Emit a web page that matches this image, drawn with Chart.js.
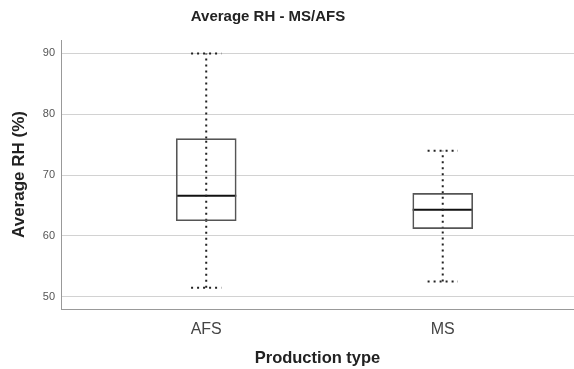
<!DOCTYPE html>
<html>
<head>
<meta charset="utf-8">
<script src="https://cdn.jsdelivr.net/npm/chart.js@4/dist/chart.umd.min.js"></script>
<style>
  html, body { margin: 0; padding: 0; background: #fff; }
  canvas { display: block; }
</style>
</head>
<body>
<canvas id="chart" width="574" height="369"></canvas>
<script>
// Box plot summary of average relative humidity per production type
const categories = ['AFS', 'MS'];
const positions = [1, 2];
const whiskerLow = [51.5, 52.5];
const q1 = [62.5, 61.2];
const median = [66.6, 64.3];
const q3 = [76, 67];
const whiskerHigh = [90, 74];
const yTicks = [50, 60, 70, 80, 90];

const chartTitle = 'Average RH - MS/AFS';
const xTitle = 'Production type';
const yTitle = 'Average RH (%)';

const BOX_HALF = 0.127;
const CAP_HALF = 0.064;
const FONT = '"Liberation Sans", Arial, sans-serif';

function segment(x0, y0, x1, y1, dashed, width, color) {
  return {
    type: 'line',
    data: [{ x: x0, y: y0 }, { x: x1, y: y1 }],
    borderColor: color,
    borderWidth: width,
    borderDash: dashed ? [2, 4] : [],
    borderCapStyle: 'butt',
    pointRadius: 0,
    fill: false,
    tension: 0
  };
}

const datasets = [];
// boxes (interquartile range)
datasets.push({
  type: 'bar',
  data: categories.map((c, i) => ({ x: positions[i], y: [q1[i], q3[i]] })),
  backgroundColor: 'rgba(255,255,255,0)',
  borderColor: '#555',
  borderWidth: 1,
  borderSkipped: false,
  barThickness: 60
});
categories.forEach((c, i) => {
  const x = positions[i];
  // whiskers
  datasets.push(segment(x, whiskerLow[i], x, q1[i], true, 2, '#222'));
  datasets.push(segment(x, q3[i], x, whiskerHigh[i], true, 2, '#222'));
  datasets.push(segment(x, q1[i], x, q3[i], true, 2, '#222'));
  // caps
  datasets.push(segment(x - CAP_HALF, whiskerLow[i], x + CAP_HALF, whiskerLow[i], true, 2, '#222'));
  datasets.push(segment(x - CAP_HALF, whiskerHigh[i], x + CAP_HALF, whiskerHigh[i], true, 2, '#222'));
  // median
  datasets.push(segment(x - BOX_HALF, median[i], x + BOX_HALF, median[i], false, 2, '#111'));
});

const titlePlugin = {
  id: 'plotTitle',
  afterDraw(chart) {
    const ctx = chart.ctx;
    ctx.save();
    ctx.font = 'bold 15px ' + FONT;
    ctx.fillStyle = '#222';
    ctx.textAlign = 'center';
    ctx.textBaseline = 'middle';
    ctx.fillText(chartTitle, 268, 17);
    ctx.restore();
  }
};

new Chart(document.getElementById('chart'), {
  type: 'bar',
  data: { datasets },
  plugins: [titlePlugin],
  options: {
    responsive: false,
    animation: false,
    layout: { padding: { top: 40, right: 0, bottom: 0, left: 0 } },
    plugins: {
      legend: { display: false },
      tooltip: { enabled: false },
      title: { display: false }
    },
    scales: {
      x: {
        type: 'linear',
        offset: false,
        min: 0.386,
        max: 2.555,
        afterBuildTicks: (scale) => { scale.ticks = positions.map(v => ({ value: v })); },
        afterFit: (scale) => { scale.height = 60; },
        grid: { display: false },
        border: { display: true, color: '#999', width: 1 },
        ticks: {
          callback: (v) => categories[positions.indexOf(v)],
          color: '#444',
          font: { family: FONT, size: 16 },
          padding: 3,
          maxRotation: 0
        },
        title: {
          display: true,
          text: xTitle,
          color: '#222',
          font: { family: FONT, size: 16.5, weight: 'bold' },
          padding: { top: 0, bottom: 1 }
        }
      },
      y: {
        min: 48,
        max: 92.2,
        afterBuildTicks: (scale) => { scale.ticks = yTicks.map(v => ({ value: v })); },
        afterFit: (scale) => { scale.width = 61; },
        grid: { color: '#d2d2d2', lineWidth: 1, drawTicks: false },
        border: { display: true, color: '#999', width: 1 },
        ticks: {
          color: '#555',
          font: { family: FONT, size: 11 },
          padding: 6
        },
        title: {
          display: true,
          text: yTitle,
          color: '#222',
          font: { family: FONT, size: 17, weight: 'bold' },
          padding: { top: 9, bottom: 0 }
        }
      }
    }
  }
});
</script>
</body>
</html>
